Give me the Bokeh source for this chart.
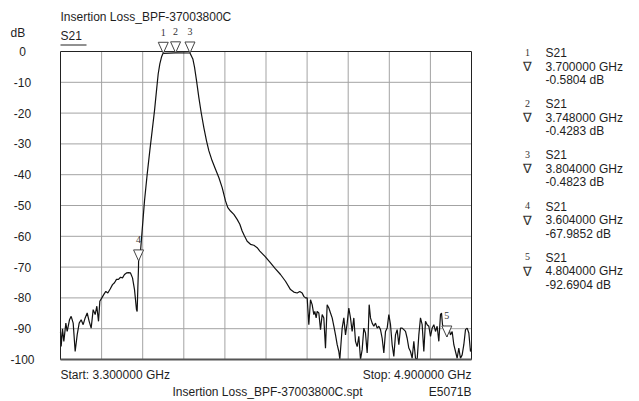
from bokeh.plotting import figure
from bokeh.models import Range1d
from bokeh.core.properties import value
from bokeh.embed import file_html
from bokeh.resources import INLINE

# ---------------- data ----------------
title_text = "Insertion Loss_BPF-37003800C"
trace_name = "S21"
file_text = "Insertion Loss_BPF-37003800C.spt"
instrument = "E5071B"
y_unit = "dB"
start_ghz = 3.3
stop_ghz = 4.9

db_ticks = [0, -10, -20, -30, -40, -50, -60, -70, -80, -90, -100]
freq_grid = [3.46, 3.62, 3.78, 3.94, 4.10, 4.26, 4.42, 4.58, 4.74]

freq = [
    3.3000, 3.3026, 3.3078, 3.3130, 3.3208, 3.3260, 3.3350, 3.3415, 3.3494, 3.3571,
    3.3649, 3.3727, 3.3805, 3.3882, 3.3960, 3.4039, 3.4116, 3.4194, 3.4272, 3.4350,
    3.4414, 3.4480, 3.4531, 3.4609, 3.4700, 3.4765, 3.4842, 3.4934, 3.5025, 3.5102,
    3.5180, 3.5258, 3.5336, 3.5414, 3.5491, 3.5570, 3.5647, 3.5725, 3.5803, 3.5881,
    3.5958, 3.5984, 3.6011, 3.6036, 3.6040, 3.6115, 3.6270, 3.6375, 3.6477, 3.6569,
    3.6660, 3.6737, 3.6803, 3.6867, 3.6932, 3.6980, 3.7000, 3.7480, 3.8040, 3.8152,
    3.8217, 3.8294, 3.8385, 3.8476, 3.8580, 3.8684, 3.8774, 3.8904, 3.9034, 3.9164,
    3.9294, 3.9423, 3.9514, 3.9618, 3.9748, 3.9877, 3.9981, 4.0072, 4.0163, 4.0267,
    4.0397, 4.0526, 4.0656, 4.0760, 4.0960, 4.1160, 4.1360, 4.1564, 4.1759, 4.1954,
    4.2083, 4.2213, 4.2315, 4.2408, 4.2473, 4.2538, 4.2603, 4.2667, 4.2732, 4.2797,
    4.2862, 4.2900, 4.2953, 4.2992, 4.3057, 4.3122, 4.3187, 4.3251, 4.3316, 4.3381,
    4.3446, 4.3511, 4.3576, 4.3641, 4.3706, 4.3771, 4.3835, 4.3874, 4.3926, 4.3965,
    4.4030, 4.4095, 4.4160, 4.4224, 4.4289, 4.4354, 4.4419, 4.4484, 4.4549, 4.4614,
    4.4679, 4.4744, 4.4808, 4.4873, 4.4938, 4.4977, 4.5016, 4.5068, 4.5133, 4.5198,
    4.5263, 4.5328, 4.5392, 4.5457, 4.5522, 4.5587, 4.5652, 4.5717, 4.5782, 4.5847,
    4.5911, 4.5976, 4.6041, 4.6106, 4.6171, 4.6236, 4.6301, 4.6366, 4.6431, 4.6495,
    4.6560, 4.6625, 4.6690, 4.6755, 4.6820, 4.6885, 4.6950, 4.7014, 4.7079, 4.7144,
    4.7209, 4.7274, 4.7339, 4.7404, 4.7469, 4.7534, 4.7598, 4.7663, 4.7728, 4.7793,
    4.7832, 4.7871, 4.7923, 4.7988, 4.8040, 4.8117, 4.8182, 4.8247, 4.8312, 4.8377,
    4.8442, 4.8506, 4.8571, 4.8636, 4.8701, 4.8766, 4.8831, 4.8896, 4.8961, 4.9000,
]
db = [
    -91.0, -95.8, -90.0, -94.1, -88.2, -90.9, -87.1, -86.0, -88.2, -97.4,
    -92.0, -88.2, -87.1, -88.7, -86.5, -84.9, -87.6, -89.8, -83.8, -85.4,
    -82.7, -87.6, -81.1, -80.0, -78.7, -77.9, -78.4, -77.1, -75.7, -75.1,
    -74.0, -74.0, -73.3, -73.5, -72.4, -71.9, -71.8, -71.9, -73.5, -77.3,
    -83.8, -84.4, -76.8, -70.3, -67.9852, -64.8, -48.5, -39.8, -32.2, -25.7,
    -19.2, -12.7, -7.3, -4.0, -1.8, -0.8, -0.5804, -0.4283, -0.4823, -2.4,
    -5.1, -9.4, -14.9, -19.8, -24.7, -29.0, -32.2, -35.5, -38.2, -40.9,
    -44.2, -48.5, -50.7, -51.8, -52.9, -54.5, -56.1, -58.3, -59.9, -61.6,
    -62.6, -62.9, -63.7, -64.8, -66.5, -68.5, -70.5, -72.4, -74.6, -77.3,
    -78.1, -78.4, -77.9, -78.4, -79.5, -80.0, -80.0, -88.7, -80.6, -82.2,
    -85.4, -84.4, -86.5, -84.4, -84.9, -90.3, -85.4, -86.5, -96.3, -82.2,
    -83.3, -84.9, -86.5, -89.2, -92.0, -95.2, -97.4, -100.0, -94.1, -89.8,
    -86.5, -92.0, -88.2, -83.3, -86.5, -90.9, -86.5, -94.1, -95.8, -92.5,
    -100.0, -96.8, -89.8, -91.4, -97.9, -92.0, -82.2, -86.5, -88.2, -89.2,
    -88.2, -89.8, -89.2, -90.3, -93.1, -97.9, -90.9, -89.8, -85.4, -88.7,
    -95.2, -99.0, -92.0, -90.3, -95.2, -89.8, -89.8, -90.3, -90.9, -93.1,
    -96.3, -97.4, -99.6, -94.1, -99.6, -100.0, -92.0, -86.5, -88.7, -97.4,
    -87.6, -88.7, -89.2, -92.5, -89.8, -88.7, -90.9, -89.2, -94.1, -85.4,
    -84.9, -88.7, -89.8, -89.2, -92.6904, -89.8, -92.0, -90.9, -95.2, -97.4,
    -99.6, -96.3, -99.6, -98.5, -95.2, -90.3, -89.8, -91.4, -97.4, -96.5,
]

marker_id = ["1", "2", "3", "4", "5"]
marker_freq = [3.700, 3.748, 3.804, 3.604, 4.804]
marker_db = [-0.5804, -0.4283, -0.4823, -67.9852, -92.6904]

# ---------------- layout ----------------
W, H = 636, 400
BOX_L, BOX_T, BOX_W, BOX_H = 60, 51, 411, 308     # chart box in pixels
FONT = "Liberation Sans"
SERIF = "Liberation Serif"
TXT = "#1e1e1e"
GRID = "#a3a3a3"

dx = (stop_ghz - start_ghz) / BOX_W                 # GHz per pixel
dy = (db_ticks[0] - db_ticks[-1]) / BOX_H           # dB per pixel

def X(px):
    return start_ghz + (px - BOX_L) * dx

def Y(py):
    return db_ticks[0] - (py - BOX_T) * dy

p = figure(width=W, height=H, min_border=0,
           x_range=Range1d(X(0), X(W)), y_range=Range1d(Y(H), Y(0)),
           x_axis_location=None, y_axis_location=None,
           toolbar_location=None, output_backend="svg")
p.outline_line_color = None
p.background_fill_color = "white"
p.border_fill_color = "white"
p.grid.visible = False

ymin, ymax = db_ticks[-1], db_ticks[0]

# grid lines from the tick arrays
p.segment(x0=freq_grid, y0=[ymin] * len(freq_grid), x1=freq_grid, y1=[ymax] * len(freq_grid),
          line_color=GRID, line_width=1)
inner = db_ticks[1:-1]
p.segment(x0=[start_ghz] * len(inner), y0=inner, x1=[stop_ghz] * len(inner), y1=inner,
          line_color=GRID, line_width=1)

# trace
p.line(freq, db, line_color="#111111", line_width=1.2)

# chart box
p.quad(left=[start_ghz], right=[stop_ghz], bottom=[ymin], top=[ymax],
       fill_color=None, line_color="#222222", line_width=1)
p.segment(x0=[start_ghz], y0=[ymin], x1=[stop_ghz], y1=[ymin], line_color="#555555", line_width=2)

# y tick labels
p.text(x=[start_ghz] * len(db_ticks), y=db_ticks, text=[str(t) for t in db_ticks],
       x_offset=-38, text_align="center", text_baseline="middle",
       text_font=value(FONT), text_font_size="12px", text_color=TXT)

# marker triangles and numbers on the trace
tri_xs = [[f - 5 * dx, f + 5 * dx, f] for f in marker_freq]
tri_ys = [[d + 11 * dy, d + 11 * dy, d] for d in marker_db]
p.patches(tri_xs, tri_ys, fill_color="white", line_color="#444444", line_width=1)
p.text(x=marker_freq, y=marker_db, text=marker_id, y_offset=-21,
       text_align="center", text_baseline="middle",
       text_font=value(SERIF), text_font_size="10px", text_color="#333333")

def page_text(px, py, text, size="12px", align="left", font=FONT, color=TXT):
    p.text(x=[X(px)], y=[Y(py)], text=[text], text_align=align, text_baseline="middle",
           text_font=value(font), text_font_size=size, text_color=color)

# header texts
page_text(60, 16, title_text)
page_text(10, 32, y_unit)
page_text(60, 35, trace_name)
p.segment(x0=[X(60)], y0=[Y(44.5)], x1=[X(86)], y1=[Y(44.5)], line_color="#222222", line_width=1)

# footer texts
page_text(60, 374, f"Start: {start_ghz:.6f} GHz")
page_text(471, 374, f"Stop: {stop_ghz:.6f} GHz", align="right")
page_text(172, 391, file_text)
page_text(471, 391, instrument, align="right")

# marker readout panel
for i, (mid, f, d) in enumerate(zip(marker_id, marker_freq, marker_db)):
    y0 = 52.5 + 51.2 * i
    page_text(527, y0 - 1, mid, size="10px", align="center", font=SERIF, color="#333333")
    page_text(527, y0 + 13.5, "\u2207", size="13px", align="center", font=SERIF, color="#333333")
    page_text(545, y0, trace_name)
    page_text(545, y0 + 13.5, f"{f:.6f} GHz")
    page_text(545, y0 + 27, f"{d:.4f} dB")

open("out.html", "w").write(file_html(p, INLINE))
